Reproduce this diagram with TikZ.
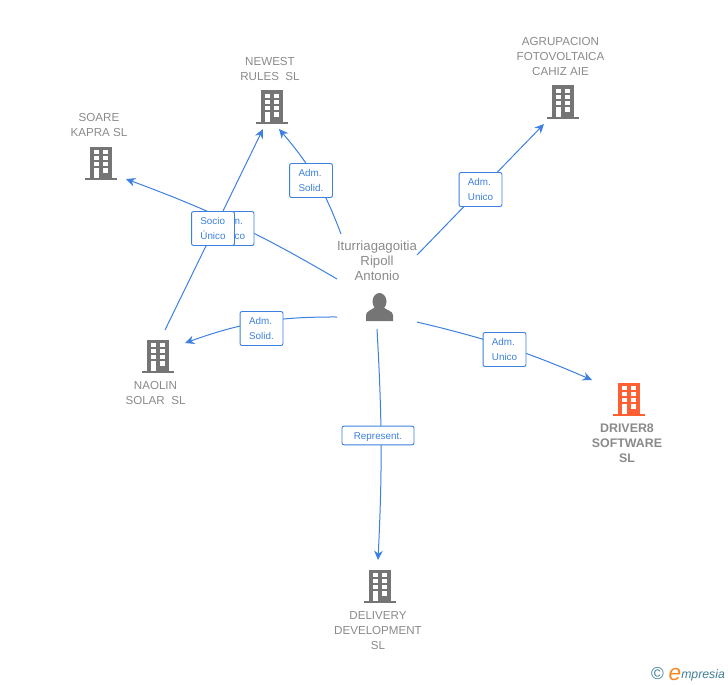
\documentclass[tikz,border=0pt]{standalone}
\usepackage{fontspec}
\setmainfont{Liberation Sans}
\usepackage{xcolor}
\usepackage{tikz}
\usetikzlibrary{arrows, arrows.meta}
\definecolor{linkblue}{HTML}{3C80E0}
\definecolor{iconteal}{HTML}{3F7F95}
\definecolor{iconorange}{HTML}{F08A24}
\definecolor{txtgray}{HTML}{8A8A8A}
\definecolor{bldggray}{HTML}{757575}
\definecolor{bldgred}{HTML}{FF5F33}
\tikzset{
  pics/bldg/.style={code={
    \fill[#1] (-11,-16.5) rectangle (11,15);
    \fill[#1] (-16,15) rectangle (16,17);
    \foreach \y in {-13,-7,-1} {
      \fill[white] (-7.5,\y) rectangle (-2.5,\y+4);
      \fill[white] (2,\y) rectangle (7,\y+4);
    }
    \fill[white] (-7.5,5) rectangle (-2.5,15);
    \fill[white] (2,5) rectangle (7,9.5);
  }},
  firm/.style={text=txtgray, align=center, inner sep=0pt,
    font=\fontsize{8.7}{11.25}\selectfont},
  tag/.style={draw=linkblue, fill=white, text=linkblue, rounded corners=1.5pt,
    line width=0.7pt, align=left, inner sep=0pt, minimum width=32.2pt,
    minimum height=25.5pt, execute at begin node={\rule{0pt}{7.2pt}},
    font=\fontsize{7.4}{11.25}\selectfont},
  link/.style={-{Stealth[length=7pt,width=6.5pt]}, draw=linkblue, line width=0.75pt},
}

\begin{document}
\begin{tikzpicture}[x=0.75pt, y=-0.75pt]
\useasboundingbox (0,0) rectangle (728,685);

% companies
\pic at (272,107) {bldg=bldggray};
\pic at (101,163) {bldg=bldggray};
\pic at (563,102) {bldg=bldggray};
\pic at (158,356) {bldg=bldggray};
\pic at (629,399) {bldg=bldgred};
\pic at (380,586) {bldg=bldggray};

\node[firm] (newest) at (270,69) {NEWEST\\RULES\ \ SL};
\node[firm] (soare) at (99,125.5) {SOARE\\KAPRA SL};
\node[firm] (agrup) at (560.5,57) {AGRUPACION\\FOTOVOLTAICA\\CAHIZ AIE};
\node[firm] (naolin) at (155.5,393.5) {NAOLIN\\SOLAR\ \ SL};
\node[firm, font=\fontsize{9.3}{11.25}\selectfont\bfseries] (driver) at (627,443) {DRIVER8\\SOFTWARE\\SL};
\node[firm] (delivery) at (378,631) {DELIVERY\\DEVELOPMENT\\SL};

% person
\node[firm, font=\fontsize{9.9}{11.25}\selectfont] (person) at (377,260.5) {Iturriagagoitia\\Ripoll\\Antonio};
\fill[bldggray] (366,321) -- (366,315) .. controls (366,311) and (372,310) .. (375,307)
  -- (383,307) .. controls (386,310) and (393,311) .. (393,315) -- (393,321) -- cycle;
\fill[bldggray] (379.5,301.5) ellipse (7 and 8.5);

% ends of the links
\coordinate (pa) at (337,279);
\coordinate (pb) at (341,234);
\coordinate (pc) at (417,255);
\coordinate (pd) at (337,317);
\coordinate (pe) at (417,322);
\coordinate (pf) at (377,329);
\coordinate (toSoare) at (126,179);
\coordinate (toNewestA) at (263,129);
\coordinate (fromNaolin) at (165,330);
\coordinate (toNewestB) at (279,129);
\coordinate (toAgrup) at (544,124);
\coordinate (toNaolin) at (185,343);
\coordinate (toDriver) at (592,380);
\coordinate (toDelivery) at (378,560);

\draw[link] (pa) to[bend left=-5] (toSoare);
\node[tag] (adma) at (232.5,228.5) {Adm.\\Unico};
\draw[link] (fromNaolin) -- (toNewestA);
\node[tag] (socio) at (213,228.5) {Socio\\Único};
\draw[link] (pb) to[bend left=-10] (toNewestB);
\node[tag] (admb) at (311,180.5) {Adm.\\Solid.};
\draw[link] (pc) -- (toAgrup);
\node[tag] (admc) at (480.5,189.5) {Adm.\\Unico};
\draw[link] (pd) to[bend left=-10] (toNaolin);
\node[tag] (admd) at (261.5,328.5) {Adm.\\Solid.};
\draw[link] (pe) to[bend left=5] (toDriver);
\node[tag] (adme) at (504.5,349.5) {Adm.\\Unico};
\draw[link] (pf) to[bend left=3] (toDelivery);
\node[tag, minimum width=54pt, minimum height=14pt, align=center] (repr) at (378,435.5) {Represent.};

% logo
\node[inner sep=0pt, text=iconteal, font=\fontsize{13}{13}\selectfont] (copyr) at (657.5,674) {\textcopyright};
\node[inner sep=0pt, text=iconorange, anchor=base, font=\fontsize{17}{17}\selectfont\itshape] (logoe) at (675,680) {e};
\node[inner sep=0pt, text=iconteal, anchor=base west, font=\fontsize{9.2}{10}\selectfont\itshape] (logot) at (681,678) {mpresia};
\end{tikzpicture}
\end{document}
